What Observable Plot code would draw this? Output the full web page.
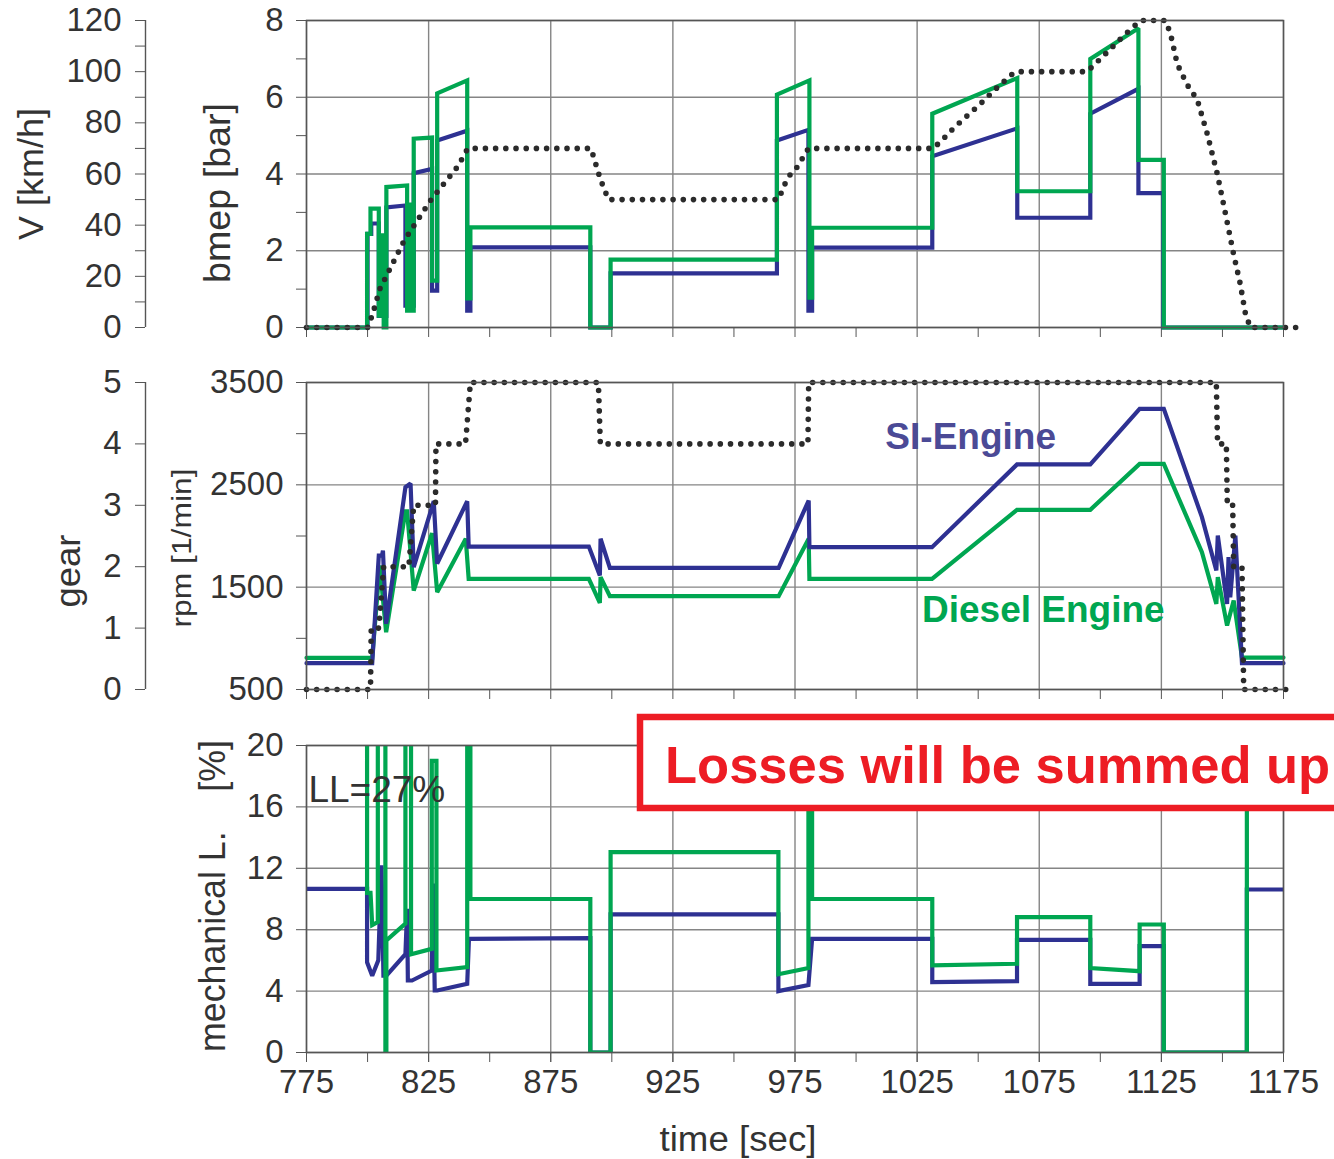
<!DOCTYPE html>
<html>
<head>
<meta charset="utf-8">
<script src="https://cdn.jsdelivr.net/npm/d3@7"></script>
<script src="https://cdn.jsdelivr.net/npm/@observablehq/plot@0.6"></script>
<style>
  body { margin: 0; background: #fff; }
  #wrap { position: relative; width: 1334px; height: 1159px; overflow: hidden; background: #fff;
          font-family: "Liberation Sans", Arial, Helvetica, sans-serif; }
  #wrap > svg { position: absolute; left: 0; }
</style>
</head>
<body>
<div id="wrap"></div>
<script>
// ---------------- DATA ----------------
// tick values
const timeGridTicks = [775, 825, 875, 925, 975, 1025, 1075, 1125, 1175];
const timeTicks = [775, 800, 825, 850, 875, 900, 925, 950, 975, 1000, 1025, 1050, 1075, 1100, 1125, 1150, 1175];
const bmepTicks = [0, 1, 2, 3, 4, 5, 6, 7, 8];
const bmepGrid = [0, 2, 4, 6, 8];
const speedTicks = [0, 10, 20, 30, 40, 50, 60, 70, 80, 90, 100, 110, 120];
const rpmTicks = [500, 1000, 1500, 2000, 2500, 3000, 3500];
const rpmGrid = [500, 1500, 2500, 3500];
const gearTicks = [0, 1, 2, 3, 4, 5];
const lossTicks = [0, 4, 8, 12, 16, 20];

// vehicle speed V [km/h] : [time, V]
const speed = [[775,0],[800,0],[802,5],[805,15],[815,34],[826,50],[837,63],[841,70],[891.5,70],[895.3,58],[898.6,50],
  [968.2,50],[972,58.6],[975.9,62.7],[980.5,70],[1031.6,70],[1036,74],[1040,78],[1051,87.5],[1058,94],[1064.5,99.5],[1067,100],
  [1094.6,100],[1102.7,107.5],[1109.5,114],[1116.4,120],[1126.6,120],[1128.7,115],[1131.5,103],[1135.5,95],[1139.7,89],
  [1143.7,76],[1147.9,60],[1150.5,48],[1154.5,29],[1157.3,17],[1159.4,5.5],[1161.4,0],[1180,0]];

// bmep [bar] : [time, bmep]
const bmepSI = [[775,0],[800,0],[800,2.44],[801.5,2.44],[801.5,2.71],[804.6,2.71],[804.6,0.3],[807.7,0.3],[807.7,3.13],
  [815.5,3.18],[815.5,0.57],[818.9,0.57],[818.9,4.02],[826.4,4.13],[826.4,0.96],[828.5,0.96],[828.5,4.87],[840.8,5.13],
  [840.8,0.44],[842.1,0.44],[842.1,2.09],[891.2,2.09],[891.2,0],[899.5,0],[899.5,1.41],[967.6,1.41],[967.6,4.87],
  [980.5,5.15],[980.5,0.44],[982,0.44],[982,2.08],[1031.2,2.08],[1031.2,4.46],[1066,5.19],[1066,2.86],[1095.9,2.86],
  [1095.9,5.57],[1115.6,6.22],[1115.6,3.5],[1125.8,3.5],[1125.8,0],[1175,0]];
const bmepDiesel = [[775,0],[799.8,0],[799.8,2.44],[801.2,2.44],[801.2,3.1],[804.6,3.1],[804.6,0.31],[806,0.31],[806,2.4],
  [806.6,2.4],[806.6,0],[807.7,0],[807.7,3.66],[816.2,3.7],[816.2,0.44],[817.3,0.44],[817.3,3.2],[817.8,3.2],[817.8,0.44],
  [818.9,0.44],[818.9,4.92],[826.4,4.95],[826.4,1.22],[828.5,1.22],[828.5,6.1],[840.8,6.44],[840.8,0.76],[842.1,0.76],
  [842.1,2.61],[891.2,2.61],[891.2,0],[899.5,0],[899.5,1.77],[967.6,1.77],[967.6,6.07],[980.9,6.44],[980.9,0.78],
  [982,0.78],[982,2.6],[1031.2,2.6],[1031.2,5.57],[1066,6.5],[1066,3.55],[1095.9,3.55],[1095.9,7.0],[1115.6,7.8],
  [1115.6,4.37],[1126,4.37],[1126,0],[1175,0]];

// engine speed [1/min] : [time, rpm]
const rpmSI = [[775,757],[801.9,757],[804.6,1809],[805.9,1809],[806.3,1858],[807.6,1142],[815.5,2477],[817.6,2513],
  [818.9,1695],[827.1,2340],[828.5,1731],[840.8,2340],[841.4,1897],[890.6,1897],[895.1,1614],[895.4,1973],[899.2,1689],
  [968.3,1689],[980.6,2347],[980.9,1891],[1031.1,1891],[1065.9,2699],[1095.9,2699],[1116.1,3243],[1126,3243],
  [1141.6,2184],[1147.5,1663],[1148.1,2005],[1151.9,1337],[1152.5,1793],[1153.2,1400],[1155.3,2005],[1158,757],[1175,757]];
const rpmDiesel = [[775,810],[801.9,810],[805,1712],[807.6,1060],[815.5,2242],[816.2,2242],[818.9,1467],[826.4,2027],
  [828.5,1451],[840.2,1973],[841.4,1582],[890.6,1582],[895.1,1347],[895.4,1598],[899.2,1412],[968.3,1412],[980.6,1973],
  [980.9,1582],[1031.1,1582],[1065.9,2256],[1095.9,2256],[1116.1,2705],[1126,2705],[1141.6,1842],[1147.5,1337],
  [1148.1,1598],[1151.9,1125],[1154.6,1370],[1158,812],[1175,812]];

// gear : [time, gear]
const gear = [[775,0],[801.2,0],[801.5,1],[804.6,1],[806.6,2],[816.9,2],[818.9,3],[827.8,3],[828,4],[840.1,4],[842.1,5],
  [894.5,5],[895.3,4],[980.3,4],[980.6,5],[1147.5,5],[1148,4],[1151.6,4],[1152,3],[1154.2,3],[1154.6,2],[1158,2],
  [1158.7,0],[1180,0]];

// mechanical losses [%] : [time, loss]  (values above 20 are off-scale)
const lossSI = [[775,10.66],[799.8,10.66],[799.8,5.88],[801.9,5.0],[804.4,6.0],[805.7,12.2],[806.5,5.0],[807.7,5.0],
  [815.5,6.4],[816.2,9.36],[816.5,4.69],[818.2,4.69],[826.3,5.34],[826.8,11],[827.5,4.04],[828.5,4.04],[840.8,4.47],
  [841.5,7.4],[891.2,7.45],[891.2,0],[899.5,0],[899.5,9.0],[968.2,9.0],[968.2,4.0],[980.5,4.4],[982,7.4],[1031.2,7.4],
  [1031.2,4.58],[1065.9,4.65],[1065.9,7.34],[1095.9,7.34],[1095.9,4.47],[1116.1,4.47],[1116.1,6.93],[1126,6.93],
  [1126,0],[1160,0],[1160,10.62],[1175,10.62]];
const lossDiesel = [[775,30],[799.8,30],[799.8,10.4],[801.2,10.4],[801.9,8.3],[804.2,8.5],[804.2,30],[807.3,30],[807.3,0],
  [807.7,0],[807.7,7.3],[815.5,8.4],[815.5,30],[817.8,30],[817.8,6.4],[826.3,6.75],[826.3,19],[828.2,19],[828.2,5.34],
  [840.8,5.56],[840.8,30],[842.1,30],[842.1,10.0],[891.2,10.0],[891.2,0],[899.5,0],[899.5,13.05],[968.2,13.05],
  [968.2,5.1],[980.5,5.5],[980.5,30],[982,30],[982,10],[1031.2,10],[1031.2,5.67],[1065.9,5.78],[1065.9,8.82],
  [1095.9,8.82],[1095.9,5.5],[1116.1,5.3],[1116.1,8.34],[1126,8.34],[1126,0],[1160,0],[1160,30],[1175,30]];

// annotations
const engineLabels = [
  {text: "SI-Engine", t: 1012, rpm: 2963, color: "#4b4a96"},
  {text: "Diesel Engine", t: 1027, rpm: 1272, color: "#00a651"}
];
const lossLabel = [{text: "LL=27%", t: 775.8, loss: 17.1}];

// ---------------- STYLE ----------------
const FONT = '"Liberation Sans", Arial, Helvetica, sans-serif';
const BLUE = "#2e3192", GREEN = "#00a651", DOT = "#2b2b2b", GRID = "#858585", AXIS = "#555", TXT = "#333";
const W = 1334, ML = 306, MR = 51;
const X = d => d[0], Y = d => d[1];
const dotted = {stroke: DOT, strokeWidth: 5.6, strokeDasharray: "0 10.2", strokeLinecap: "round", strokeLinejoin: "round"};
const solid = c => ({stroke: c, strokeWidth: 4.2, strokeLinejoin: "miter", strokeMiterlimit: 2});
const gridStyle = {stroke: GRID, strokeOpacity: 1, strokeWidth: 1.4};
const baseStyle = {fontFamily: FONT, fontSize: "33px", color: TXT, background: "transparent", overflow: "visible"};

const wrap = document.getElementById("wrap");
function place(svg, top) { svg.style.top = top + "px"; wrap.appendChild(svg); }

// ---- Panel 1: bmep + speed ----
const p1 = Plot.plot({
  width: W, height: 340, marginLeft: ML, marginRight: MR, marginTop: 20, marginBottom: 13,
  style: baseStyle,
  x: {domain: [775, 1175], axis: null},
  y: {domain: [0, 8], axis: null},
  marks: [
    Plot.gridX({ticks: timeGridTicks, ...gridStyle}),
    Plot.gridY({ticks: bmepGrid, ...gridStyle}),
    Plot.axisX({ticks: timeTicks, tickFormat: () => "", tickSize: 10, stroke: AXIS, label: null}),
    Plot.axisY({ticks: bmepTicks, tickFormat: d => d % 2 === 0 ? String(d) : "", tickSize: 10, tickPadding: 13, stroke: AXIS, label: null}),
    Plot.axisY({ticks: speedTicks.map(v => v / 15), tickFormat: d => { const v = Math.round(d * 15); return v % 20 === 0 ? String(v) : ""; },
      tickSize: 10, tickPadding: 14, dx: -161, stroke: AXIS, label: null}),
    Plot.ruleX([775], {dx: -161, stroke: AXIS, strokeWidth: 1.4}),
    Plot.line(bmepSI, {x: X, y: Y, ...solid(BLUE)}),
    Plot.line(bmepDiesel, {x: X, y: Y, ...solid(GREEN)}),
    Plot.line(speed, {x: X, y: d => d[1] / 15, ...dotted}),
    Plot.frame({stroke: AXIS, strokeWidth: 1.5})
  ]
});
place(p1, 0);

// ---- Panel 2: rpm + gear ----
const g2r = g => 500 + g * 600;
const p2 = Plot.plot({
  width: W, height: 340, marginLeft: ML, marginRight: MR, marginTop: 20, marginBottom: 13,
  style: baseStyle,
  x: {domain: [775, 1175], axis: null},
  y: {domain: [500, 3500], axis: null},
  marks: [
    Plot.gridX({ticks: timeGridTicks, ...gridStyle}),
    Plot.gridY({ticks: rpmGrid, ...gridStyle}),
    Plot.axisX({ticks: timeTicks, tickFormat: () => "", tickSize: 10, stroke: AXIS, label: null}),
    Plot.axisY({ticks: rpmTicks, tickFormat: d => rpmGrid.includes(d) ? String(d) : "", tickSize: 10, tickPadding: 13, stroke: AXIS, label: null}),
    Plot.axisY({ticks: gearTicks.map(g2r), tickFormat: d => String(Math.round((d - 500) / 600)),
      tickSize: 10, tickPadding: 14, dx: -161, stroke: AXIS, label: null}),
    Plot.ruleX([775], {dx: -161, stroke: AXIS, strokeWidth: 1.4}),
    Plot.line(rpmDiesel, {x: X, y: Y, ...solid(GREEN)}),
    Plot.line(rpmSI, {x: X, y: Y, ...solid(BLUE)}),
    Plot.line(gear, {x: X, y: d => g2r(d[1]), ...dotted}),
    Plot.text(engineLabels, {x: "t", y: "rpm", text: "text", fill: d => d.color, fontSize: 37, fontWeight: "bold", textAnchor: "start", fontFamily: FONT}),
    Plot.frame({stroke: AXIS, strokeWidth: 1.5})
  ]
});
place(p2, 362);

// ---- Panel 3: mechanical losses ----
const p3 = Plot.plot({
  width: W, height: 434, marginLeft: ML, marginRight: MR, marginTop: 20, marginBottom: 107,
  style: baseStyle,
  x: {domain: [775, 1175], axis: null},
  y: {domain: [0, 20], axis: null},
  marks: [
    Plot.gridX({ticks: timeGridTicks, ...gridStyle}),
    Plot.gridY({ticks: lossTicks, ...gridStyle}),
    Plot.axisX({ticks: timeTicks, tickFormat: () => "", tickSize: 10, stroke: AXIS, label: null}),
    Plot.axisX({ticks: timeGridTicks, tickFormat: d => String(d), tickSize: 10, tickPadding: 7, stroke: AXIS, label: null}),
    Plot.axisY({ticks: lossTicks, tickFormat: d => String(d), tickSize: 10, tickPadding: 13, stroke: AXIS, label: null}),
    Plot.line(lossSI, {x: X, y: Y, ...solid(BLUE), clip: true}),
    Plot.line(lossDiesel, {x: X, y: Y, ...solid(GREEN), clip: true}),
    Plot.text(lossLabel, {x: "t", y: "loss", text: "text", fill: TXT, fontSize: 37, textAnchor: "start", fontFamily: FONT}),
    Plot.frame({stroke: AXIS, strokeWidth: 1.5})
  ]
});
place(p3, 725);

// ---- Overlay: axis titles and annotation box ----
const ns = "http://www.w3.org/2000/svg";
const ov = document.createElementNS(ns, "svg");
ov.setAttribute("width", W); ov.setAttribute("height", 1159);
ov.style.top = "0px"; ov.style.pointerEvents = "none";
wrap.appendChild(ov);
function addText(str, attrs) {
  const t = document.createElementNS(ns, "text");
  t.textContent = str;
  t.setAttribute("font-family", FONT);
  t.style.whiteSpace = "pre";
  for (const k in attrs) t.setAttribute(k, attrs[k]);
  ov.appendChild(t);
  return t;
}
const titles = [
  {text: "V [km/h]", x: 43, y: 174, size: 35, len: 132},
  {text: "bmep [bar]", x: 230, y: 193, size: 36, len: 180},
  {text: "gear", x: 80, y: 571, size: 35, len: 73},
  {text: "rpm [1/min]", x: 191, y: 548, size: 27, len: 159},
  {text: "mechanical L.    [%]", x: 225, y: 896, size: 36, len: 312}
];
for (const d of titles) {
  addText(d.text, {transform: `translate(${d.x},${d.y}) rotate(-90)`, "text-anchor": "middle",
    "font-size": d.size, fill: TXT, textLength: d.len, lengthAdjust: "spacingAndGlyphs"});
}
addText("time [sec]", {x: 738, y: 1151, "text-anchor": "middle", "font-size": 35, fill: TXT, textLength: 157, lengthAdjust: "spacingAndGlyphs"});

// red call-out box
const rect = document.createElementNS(ns, "rect");
rect.setAttribute("x", 640); rect.setAttribute("y", 717);
rect.setAttribute("width", 760); rect.setAttribute("height", 91);
rect.setAttribute("fill", "#fff"); rect.setAttribute("stroke", "#ed1c24"); rect.setAttribute("stroke-width", 6.5);
ov.appendChild(rect);
addText("Losses will be summed up", {x: 665, y: 783, "font-size": 52.5, "font-weight": "bold", fill: "#ed1c24"});
</script>
</body>
</html>
